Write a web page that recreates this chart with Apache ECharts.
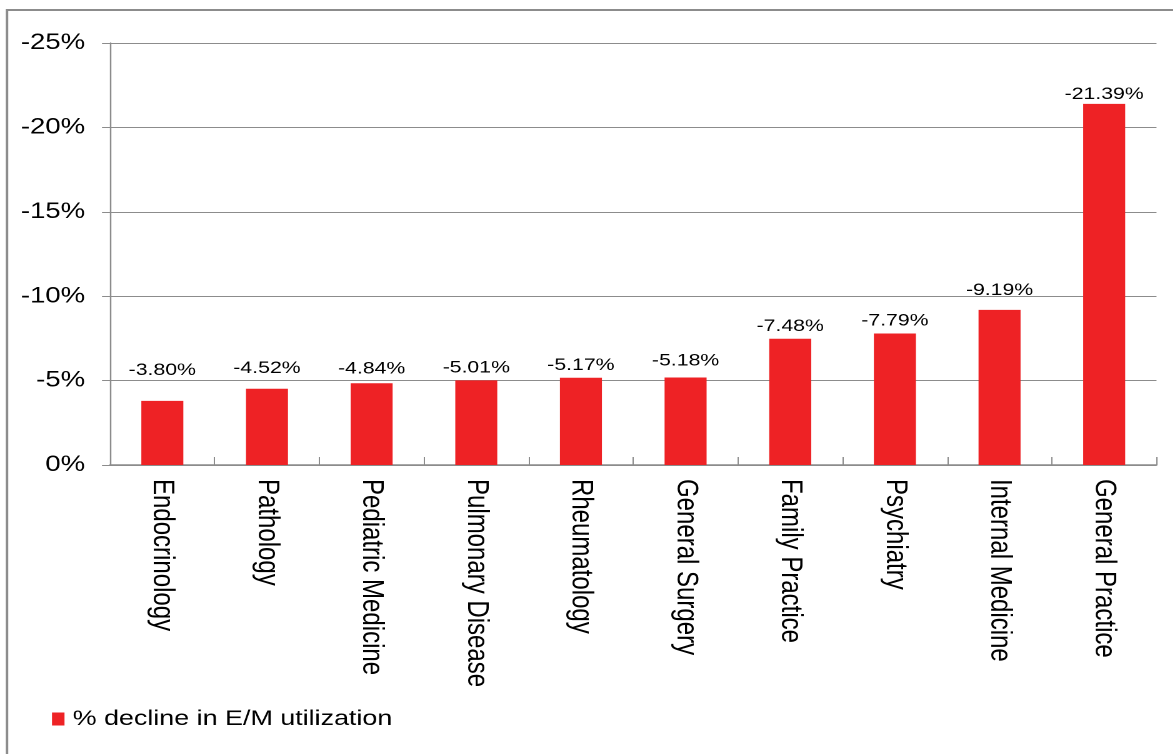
<!DOCTYPE html>
<html><head><meta charset="utf-8">
<script src="https://cdn.jsdelivr.net/npm/echarts@6/dist/echarts.min.js"></script>
<style>
html,body{margin:0;padding:0;background:#fff;overflow:hidden}
#wrap{width:1173px;height:754px;overflow:hidden;position:relative}
#c{width:938.4px;height:754px;transform:scaleX(1.25);transform-origin:0 0}
</style>
</head><body><div id="wrap"><div id="c"></div></div>
<script>
const categories = ["Endocrinology","Pathology","Pediatric Medicine","Pulmonary Disease","Rheumatology","General Surgery","Family Practice","Psychiatry","Internal Medicine","General Practice"];
const values = [-3.80,-4.52,-4.84,-5.01,-5.17,-5.18,-7.48,-7.79,-9.19,-21.39];
const seriesName = "% decline in E/M utilization";
const yTicks = [0,-5,-10,-15,-20,-25];

// per-label gap above each bar (as placed in the original)
const labelGap = [22,12,6,4,4,8,4,4,11,1];

const chart = echarts.init(document.getElementById('c'), null, {renderer:'canvas', devicePixelRatio:2});
const font = 'Arial, "Liberation Sans", sans-serif';
const gray = '#8c8c8c';
chart.setOption({
  animation:false,
  backgroundColor:'#fff',
  graphic:[{type:'rect',shape:{x:5.6,y:10,width:1200,height:800},style:{fill:'none',stroke:gray,lineWidth:2},silent:true}],
  grid:{left:88,right:12.8,top:43,bottom:289,containLabel:false},
  legend:{show:true,left:41.6,top:708,padding:0,itemWidth:10,itemHeight:13,itemGap:6,icon:'rect',
    textStyle:{fontFamily:font,fontSize:21.5,color:'#000',padding:[0,0,0,1.5]},data:[seriesName]},
  xAxis:{type:'category',data:categories,
    axisLine:{lineStyle:{color:gray,width:1.5}},
    axisTick:{show:true,inside:true,length:8,lineStyle:{color:gray}},
    axisLabel:{rotate:-90,interval:0,margin:14,fontFamily:font,fontSize:24,color:'#000'}},
  yAxis:{type:'value',min:-25,max:0,interval:5,inverse:true,
    axisLine:{show:true,lineStyle:{color:gray,width:1.2}},
    axisTick:{show:true,length:6.4,lineStyle:{color:gray}},
    splitLine:{show:true,lineStyle:{color:gray,width:1}},
    axisLabel:{margin:20,fontFamily:font,fontSize:22,color:'#000',
      formatter:v=>(yTicks.indexOf(v)>=0? v+'%' : '')}},
  series:[{name:seriesName,type:'bar',barWidth:33.6,
    data:values.map((v,i)=>({value:v,label:{distance:labelGap[i]}})),
    itemStyle:{color:'#EE2225'},
    label:{show:true,position:'top',fontFamily:font,fontSize:17,color:'#000',
      formatter:p=>p.value.toFixed(2)+'%'}}]
});
</script></body></html>
